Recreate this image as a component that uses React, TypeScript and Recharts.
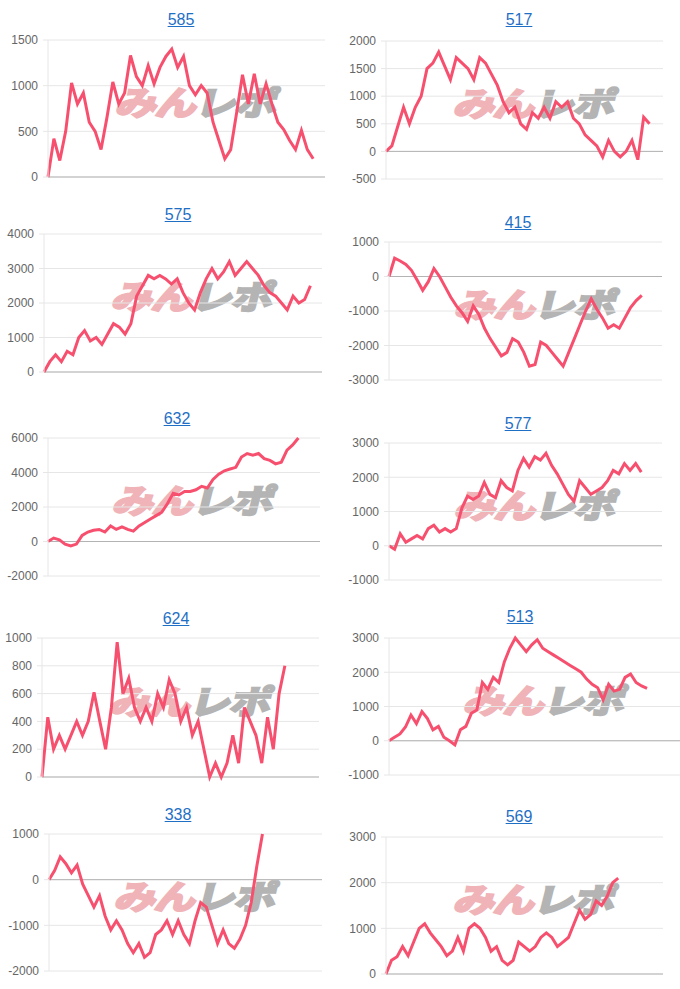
import { LineChart, Line, XAxis, YAxis, CartesianGrid, ReferenceLine } from "recharts";

// machine numbers shown as chart titles
const titles = ["585", "517", "575", "415", "632", "577", "624", "513", "338", "569"];

// coin difference per data point
const s585 = [0, 420, 180, 500, 1030, 800, 920, 600, 500, 300, 650, 1040, 800, 920, 1330, 1100, 1000, 1220, 1020, 1200, 1320, 1400, 1200, 1320, 1000, 900, 1000, 920, 600, 400, 200, 300, 700, 1120, 800, 1130, 800, 1020, 800, 600, 520, 400, 300, 510, 300, 200];
const s517 = [0, 100, 450, 800, 500, 800, 1000, 1500, 1600, 1800, 1550, 1300, 1700, 1600, 1500, 1300, 1700, 1600, 1400, 1200, 900, 700, 800, 500, 400, 700, 600, 800, 600, 900, 800, 900, 600, 500, 300, 200, 100, -100, 200, 0, -100, 0, 200, -150, 620, 500];
const s575 = [0, 300, 500, 300, 600, 500, 1000, 1200, 900, 1000, 800, 1100, 1400, 1300, 1100, 1400, 2200, 2500, 2800, 2700, 2800, 2700, 2550, 2700, 2300, 2000, 1800, 2300, 2700, 3000, 2700, 2900, 3200, 2800, 3000, 3200, 3000, 2800, 2500, 2300, 2200, 2000, 1800, 2200, 2000, 2100, 2500];
const s415 = [0, 530, 450, 350, 180, -100, -400, -150, 230, 0, -300, -600, -850, -1050, -1300, -850, -1100, -1500, -1800, -2050, -2300, -2200, -1800, -1900, -2200, -2600, -2550, -1900, -2000, -2200, -2400, -2600, -2200, -1800, -1400, -1000, -650, -950, -1200, -1500, -1400, -1500, -1200, -900, -700, -550];
const s632 = [0, 200, 100, -150, -250, -150, 350, 550, 650, 700, 550, 900, 700, 850, 700, 600, 900, 1100, 1300, 1500, 1700, 2200, 2800, 2700, 2900, 2900, 3000, 3200, 3100, 3600, 3900, 4100, 4200, 4300, 4900, 5100, 5000, 5100, 4800, 4700, 4500, 4600, 5300, 5600, 6000];
const s577 = [0, -100, 350, 100, 200, 300, 200, 500, 600, 400, 500, 400, 500, 1100, 1450, 1350, 1450, 1850, 1500, 1400, 1900, 1700, 1600, 2200, 2550, 2300, 2600, 2500, 2700, 2350, 2100, 1800, 1500, 1300, 1900, 1700, 1500, 1600, 1700, 1900, 2200, 2100, 2400, 2200, 2400, 2150];
const s624 = [0, 430, 200, 300, 200, 300, 400, 300, 400, 610, 400, 200, 500, 970, 600, 710, 500, 400, 500, 400, 600, 500, 700, 600, 400, 500, 300, 400, 200, 0, 100, 0, 100, 300, 100, 500, 400, 300, 100, 430, 200, 600, 800];
const s513 = [0, 100, 200, 400, 750, 500, 850, 650, 320, 420, 100, 0, -120, 320, 420, 800, 900, 1700, 1500, 1850, 1700, 2300, 2700, 3000, 2800, 2600, 2800, 2950, 2700, 2600, 2500, 2400, 2300, 2200, 2100, 2000, 1800, 1650, 1550, 1200, 1650, 1450, 1500, 1850, 1950, 1700, 1600, 1530];
const s338 = [0, 200, 500, 350, 150, 320, -100, -350, -600, -350, -800, -1100, -900, -1100, -1400, -1600, -1400, -1700, -1600, -1200, -1100, -900, -1200, -900, -1200, -1400, -900, -500, -600, -1000, -1400, -1100, -1400, -1500, -1300, -1000, -500, 300, 1000];
const s569 = [0, 300, 380, 600, 400, 700, 1000, 1100, 900, 750, 600, 400, 500, 800, 500, 1000, 1100, 1000, 800, 500, 600, 300, 200, 300, 700, 600, 500, 600, 800, 900, 800, 600, 700, 800, 1100, 1400, 1200, 1300, 1600, 1500, 1700, 2000, 2100];

// y axis ticks per chart
const t585 = [0, 500, 1000, 1500];
const t517 = [-500, 0, 500, 1000, 1500, 2000];
const t575 = [0, 1000, 2000, 3000, 4000];
const t415 = [-3000, -2000, -1000, 0, 1000];
const t632 = [-2000, 0, 2000, 4000, 6000];
const t577 = [-1000, 0, 1000, 2000, 3000];
const t624 = [0, 200, 400, 600, 800, 1000];
const t513 = [-1000, 0, 1000, 2000, 3000];
const t338 = [-2000, -1000, 0, 1000];
const t569 = [0, 1000, 2000, 3000];

const series = [s585, s517, s575, s415, s632, s577, s624, s513, s338, s569];
const yTicks = [t585, t517, t575, t415, t632, t577, t624, t513, t338, t569];

// layout of each panel on the page
const layout = [
  { colX: 0, left: 48, right: 325, top: 40, bottom: 177, tx: 181, ty: 20, xMax: 47 },
  { colX: 340, left: 386, right: 663, top: 41, bottom: 179, tx: 519, ty: 20, xMax: 47.3 },
  { colX: 0, left: 44, right: 322, top: 234, bottom: 372, tx: 178, ty: 215, xMax: 48 },
  { colX: 340, left: 389, right: 662, top: 242, bottom: 380, tx: 518, ty: 223, xMax: 48.6 },
  { colX: 0, left: 48, right: 320, top: 438, bottom: 576, tx: 177, ty: 419, xMax: 47.8 },
  { colX: 340, left: 389, right: 662, top: 443, bottom: 580, tx: 518, ty: 424, xMax: 48.7 },
  { colX: 0, left: 42, right: 319, top: 638, bottom: 777, tx: 176, ty: 619, xMax: 47.9 },
  { colX: 340, left: 389, right: 680, top: 638, bottom: 775, tx: 520, ty: 617, xMax: 53 },
  { colX: 0, left: 49, right: 322, top: 834, bottom: 971, tx: 178, ty: 815, xMax: 48.6 },
  { colX: 340, left: 386, right: 663, top: 837, bottom: 974, tx: 519, ty: 817, xMax: 50.1 },
];

const font = '"Liberation Sans", Arial, sans-serif';

function Watermark({ x, y }: { x: number; y: number }) {
  return (
    <div
      style={{
        position: "absolute",
        left: x,
        top: y,
        transform: "translate(-50%, -50%) skewX(-14deg) scaleX(1.25)",
        fontFamily: '"Noto Sans CJK JP", sans-serif',
        fontWeight: 700,
        fontSize: 33,
        lineHeight: "36px",
        whiteSpace: "nowrap",
        letterSpacing: -1,
      }}
    >
      <span style={{ color: "#efb3b8", WebkitTextStroke: "2.5px #efb3b8" }}>みん</span>
      <span style={{ color: "#b4b4b4", WebkitTextStroke: "2.5px #b4b4b4" }}>レポ</span>
    </div>
  );
}

function Panel({ idx }: { idx: number }) {
  const l = layout[idx];
  const ticks = yTicks[idx];
  const data = series[idx].map((v, i) => ({ i, v }));
  const width = 340;
  const height = l.bottom - l.top + 20;
  const cx = (l.left + l.right) / 2 + 11;
  const cy = (l.top + l.bottom) / 2 - 8;

  return (
    <>
      <div
        style={{
          position: "absolute",
          left: l.tx - 40,
          top: l.ty - 10,
          width: 80,
          lineHeight: "20px",
          textAlign: "center",
          fontFamily: font,
          fontSize: 16,
          color: "#1f6fc5",
          textDecoration: "underline",
        }}
      >
        {titles[idx]}
      </div>
      <Watermark x={cx} y={cy} />
      <div style={{ position: "absolute", left: l.colX, top: l.top - 10 }}>
        <LineChart
          width={width}
          height={height}
          data={data}
          margin={{ top: 10, right: l.colX + width - l.right, bottom: 10, left: 0 }}
        >
          <CartesianGrid vertical={false} stroke="#e6e6e6" />
          <XAxis type="number" dataKey="i" domain={[0, l.xMax]} hide />
          <YAxis
            type="number"
            domain={[ticks[0], ticks[ticks.length - 1]]}
            ticks={ticks}
            interval={0}
            width={l.left - l.colX}
            tickSize={5}
            tickMargin={5}
            axisLine={{ stroke: "#e6e6e6" }}
            tickLine={{ stroke: "#e6e6e6" }}
            tick={{ fontSize: 12, fill: "#666", fontFamily: font }}
          />
          <ReferenceLine y={0} stroke="#b3b3b3" />
          <Line
            type="linear"
            dataKey="v"
            stroke="#f7506f"
            strokeWidth={3}
            dot={false}
            isAnimationActive={false}
          />
        </LineChart>
      </div>
    </>
  );
}

export default function App() {
  return (
    <div
      style={{
        position: "absolute",
        left: 0,
        top: 0,
        width: 680,
        height: 989,
        overflow: "hidden",
        background: "#fff",
      }}
    >
      {titles.map((t, i) => (
        <Panel key={t} idx={i} />
      ))}
    </div>
  );
}
